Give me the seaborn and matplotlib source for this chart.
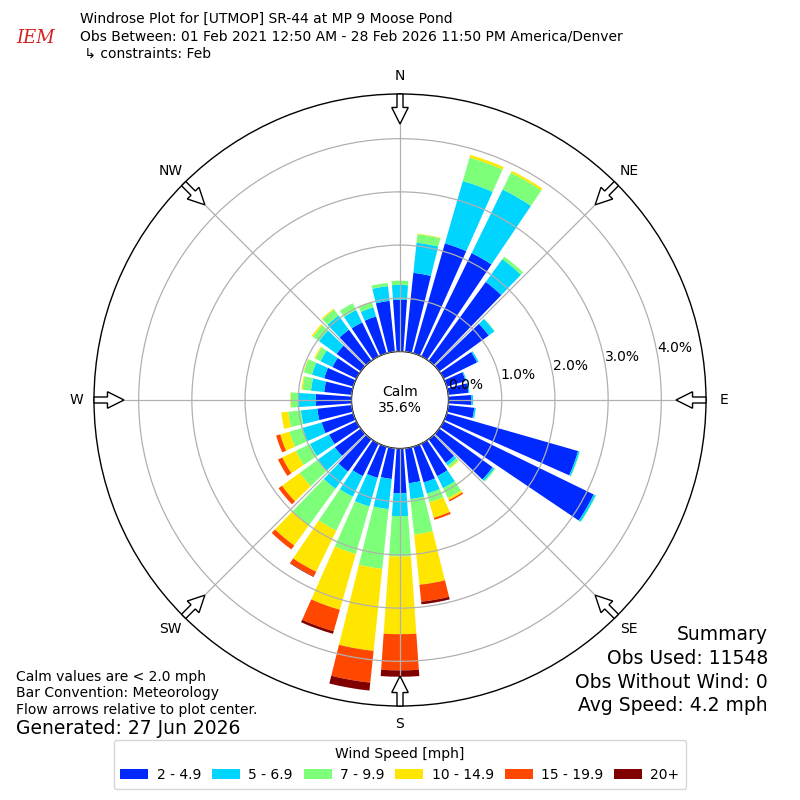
import numpy as np
import matplotlib
matplotlib.use("Agg")
import matplotlib.pyplot as plt
from matplotlib.patches import FancyArrow
import seaborn as sns

# wind direction bins (deg, meteorological, where the wind comes from)
DIRECTIONS = np.arange(0, 360, 10)
SPEED_BINS = ['2 - 4.9', '5 - 6.9', '7 - 9.9', '10 - 14.9', '15 - 19.9', '20+']

# percent of all obs, per direction, one list per speed bin
PCT_2_5 = [0.97, 1.49, 2.15, 2.16, 1.83, 1.15, 0.70, 0.37, 0.38, 0.43, 0.49, 2.57,
           3.14, 1.24, 0.55, 0.68, 0.70, 0.66, 0.84, 0.58, 0.61, 0.68, 0.75, 0.60,
           0.57, 0.62, 0.65, 0.67, 0.52, 0.57, 0.50, 0.56, 0.72, 0.71, 0.72, 0.96]
PCT_5_7 = [0.28, 0.57, 1.22, 1.33, 0.53, 0.13, 0.03, 0.02, 0.02, 0.03, 0.03, 0.03,
           0.04, 0.04, 0.06, 0.25, 0.22, 0.30, 0.43, 0.57, 0.56, 0.43, 0.40, 0.41,
           0.40, 0.37, 0.31, 0.33, 0.25, 0.24, 0.25, 0.41, 0.33, 0.26, 0.18, 0.28]
PCT_7_10 = [0.08, 0.16, 0.46, 0.35, 0.06, 0.01, 0.00, 0.00, 0.00, 0.00, 0.00, 0.01,
            0.01, 0.02, 0.05, 0.21, 0.17, 0.67, 0.76, 1.13, 0.93, 0.71, 0.85, 0.41,
            0.30, 0.26, 0.24, 0.14, 0.16, 0.16, 0.11, 0.14, 0.14, 0.14, 0.10, 0.06]
PCT_10_15 = [0.00, 0.01, 0.05, 0.04, 0.00, 0.00, 0.00, 0.00, 0.00, 0.00, 0.00, 0.00,
             0.00, 0.00, 0.02, 0.04, 0.30, 0.95, 1.46, 1.55, 1.09, 0.86, 0.47, 0.41,
             0.28, 0.18, 0.13, 0.01, 0.02, 0.01, 0.02, 0.03, 0.02, 0.00, 0.01, 0.00]
PCT_15_20 = [0.00, 0.00, 0.00, 0.00, 0.00, 0.00, 0.00, 0.00, 0.00, 0.00, 0.00, 0.00,
             0.00, 0.00, 0.00, 0.03, 0.04, 0.32, 0.68, 0.60, 0.42, 0.10, 0.09, 0.08,
             0.09, 0.08, 0.00, 0.00, 0.00, 0.00, 0.00, 0.00, 0.00, 0.00, 0.00, 0.00]
PCT_20_UP = [0.00, 0.00, 0.00, 0.00, 0.00, 0.00, 0.00, 0.00, 0.00, 0.00, 0.00, 0.00,
             0.00, 0.00, 0.00, 0.00, 0.00, 0.05, 0.12, 0.15, 0.05, 0.01, 0.00, 0.00,
             0.00, 0.00, 0.00, 0.00, 0.00, 0.00, 0.00, 0.00, 0.00, 0.00, 0.00, 0.00]
SERIES = [PCT_2_5, PCT_5_7, PCT_7_10, PCT_10_15, PCT_15_20, PCT_20_UP]

CALM_PCT = 35.6
RTICKS = [0, 1, 2, 3, 4]
COMPASS = ['N', 'NE', 'E', 'SE', 'S', 'SW', 'W', 'NW']
COMPASS_DEG = [0, 45, 90, 135, 180, 225, 270, 315]

TITLE = ['Windrose Plot for [UTMOP] SR-44 at MP 9 Moose Pond',
         'Obs Between: 01 Feb 2021 12:50 AM - 28 Feb 2026 11:50 PM America/Denver',
         ' \u21b3 constraints: Feb']
NOTES = ['Calm values are < 2.0 mph', 'Bar Convention: Meteorology',
         'Flow arrows relative to plot center.']
GENERATED = 'Generated: 27 Jun 2026'
SUMMARY = ['Summary', 'Obs Used: 11548', 'Obs Without Wind: 0', 'Avg Speed: 4.2 mph']

sns.set_style('white', rc={'text.color': 'black', 'xtick.color': 'black',
                           'ytick.color': 'black', 'axes.labelcolor': 'black'})
plt.rcParams['font.family'] = ['DejaVu Sans']

colors = sns.color_palette(plt.cm.jet(np.linspace(0, 1, 7)[1:]))

fig = plt.figure(figsize=(8, 8), dpi=100)
ax = fig.add_axes([0.1175, 0.1175, 0.765, 0.765], projection='polar')
ax.set_theta_zero_location('N')
ax.set_theta_direction(-1)

theta = np.deg2rad(DIRECTIONS)
bottom = np.zeros(len(DIRECTIONS))
for label, vals, color in zip(SPEED_BINS, SERIES, colors):
    vals = np.asarray(vals)
    ax.bar(theta, vals, width=np.deg2rad(8), bottom=bottom, color=color,
           linewidth=0, label=label, zorder=1)
    bottom += vals

ax.set_ylim(0, 4.84)
ax.set_rorigin(-0.913)
ax.set_yticks(RTICKS)
ax.set_yticklabels([f'{v:.1f}%' for v in RTICKS], fontsize=10, color='black')
ax.set_rlabel_position(80)
ax.set_xticks(np.deg2rad(COMPASS_DEG))
ax.set_xticklabels(COMPASS, fontsize=10, color='black')
ax.tick_params(axis='x', pad=2.5)
ax.grid(True, color='#b0b0b0', linewidth=0.9)
ax.set_axisbelow(False)
for sp in ax.spines.values():
    sp.set_edgecolor('black')
    sp.set_linewidth(1.0)

ax.text(0.5, 0.5, f'Calm\n{CALM_PCT:.1f}%', transform=ax.transAxes,
        ha='center', va='center', fontsize=10, zorder=6)

# flow arrows at the compass points, pointing to the plot center
for deg in COMPASS_DEG:
    a = np.deg2rad(deg)
    ux, uy = np.sin(a), np.cos(a)
    ax.add_patch(FancyArrow(0.5 + 0.5 * ux, 0.5 + 0.5 * uy, -0.049 * ux, -0.049 * uy,
                            width=0.0098, head_width=0.027, head_length=0.027,
                            length_includes_head=True, transform=ax.transAxes,
                            facecolor='white', edgecolor='black', linewidth=1,
                            clip_on=False, zorder=5))

for i, line in enumerate(TITLE):
    fig.text(0.1, 1 - (19 + 17.5 * i) / 800, line, ha='left', va='center', fontsize=10)
fig.text(0.045, 1 - 38 / 800, 'IEM', ha='center', va='center', fontsize=13,
         color='#d42020', family='DejaVu Serif', style='italic')

for i, line in enumerate(NOTES):
    fig.text(0.02, 1 - (677 + 16.5 * i) / 800, line, ha='left', va='center', fontsize=10)
fig.text(0.02, 1 - 729 / 800, GENERATED, ha='left', va='center', fontsize=13.5)

for i, line in enumerate(SUMMARY):
    fig.text(0.96, 1 - (635 + 23.5 * i) / 800, line, ha='right', va='center', fontsize=13.5)

handles, labels = ax.get_legend_handles_labels()
fig.legend(handles, labels, loc='lower center', bbox_to_anchor=(0.5, 0.005), ncol=6,
           title='Wind Speed [mph]', fontsize=10, title_fontsize=10, frameon=True,
           columnspacing=0.8, handletextpad=0.6, borderpad=0.5)

fig.savefig('out.png', dpi=100)
